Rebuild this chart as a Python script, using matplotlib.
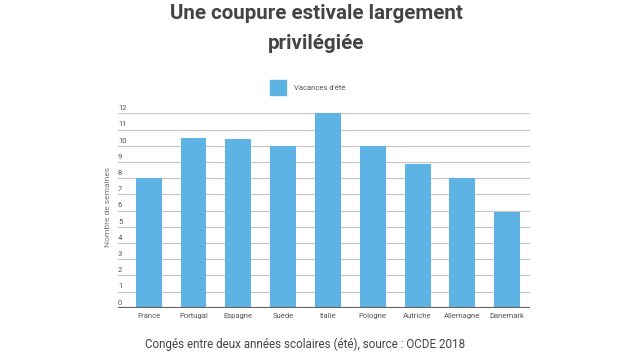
import numpy as np
import matplotlib
matplotlib.use('Agg')
import matplotlib.pyplot as plt
from matplotlib.patches import Rectangle

# DONNEES
pays = ['France', 'Portugal', 'Espagne', 'Suède', 'Italie',
        'Pologne', 'Autriche', 'Allemagne', 'Danemark']
semaines = [8, 10.5, 10.4, 10, 12, 10, 8.9, 8, 5.9]
graduations = list(range(0, 13))

titre = 'Une coupure estivale largement\nprivilégiée'
legende = "Vacances d'été"
source = 'Congés entre deux années scolaires (été), source : OCDE 2018'
label_y = 'Nombre de semaines'

bleu = '#5DB3E4'

plt.rcParams['font.family'] = ['Roboto', 'DejaVu Sans']

fig = plt.figure(figsize=(6.36, 3.58), dpi=100)
W, H = 636, 358
ax = fig.add_axes([118 / W, 50.3 / H, (530 - 118) / W, (307.7 - 113.3) / H])

x = np.arange(len(pays))
ax.bar(x, semaines, width=0.58, color=bleu, zorder=2)

ax.set_xlim(-0.685, 8.51)
ax.set_ylim(0, 12)

# grille horizontale
for v in graduations[1:]:
    ax.axhline(v, color='#c8c8c8', lw=0.9, zorder=1)
ax.axhline(0, color='#666666', lw=1.6, zorder=3)

# etiquettes de l'axe y au-dessus des lignes, a gauche
ax.set_yticks([])
for v in graduations:
    ax.annotate(str(v), xy=(0, v), xycoords=ax.get_yaxis_transform(),
                xytext=(0, 1.5), textcoords='offset points',
                ha='left', va='bottom', fontsize=5.5, color='#555555')

ax.set_xticks(x)
ax.set_xticklabels(pays, fontsize=5.5, color='#555555')
ax.tick_params(axis='x', length=0, pad=4)

for s in ax.spines.values():
    s.set_visible(False)

fig.text(108 / W, 1 - 207 / H, label_y, rotation=90, ha='center', va='center',
         fontsize=6, color='#777777')

# titre
fig.text(316 / W, 1 - 28.5 / H, titre, ha='center', va='center',
         fontsize=14.8, fontweight='bold', color='#444444', linespacing=1.7)

# legende
fig.patches.append(Rectangle((270 / W, 1 - 95 / H), 16 / W, 15 / H,
                             transform=fig.transFigure, color=bleu, figure=fig))
fig.text(294 / W, 1 - 87.5 / H, legende, ha='left', va='center',
         fontsize=5.5, color='#555555')

# source
fig.text(305 / W, 1 - 344 / H, source, ha='center', va='center',
         fontsize=8.4, color='#444444')

fig.savefig('out.png', dpi=100)
